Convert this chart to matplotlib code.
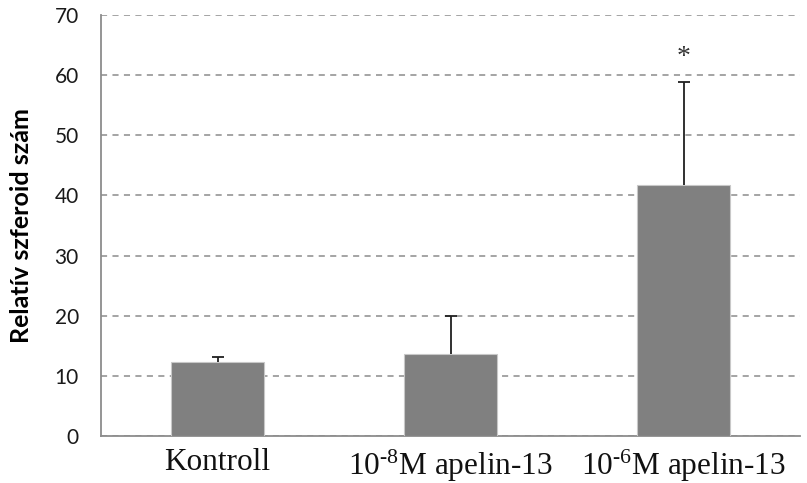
import matplotlib
matplotlib.use("Agg")
import matplotlib.pyplot as plt

categories = ["Kontroll", r"10$^{\text{-}8}$M apelin-13", r"10$^{\text{-}6}$M apelin-13"]
values = [12.3, 13.6, 41.7]
errors = [0.9, 6.4, 17.1]
significance = ["", "", "*"]
yticks = [0, 10, 20, 30, 40, 50, 60, 70]

plt.rcParams['mathtext.fontset'] = 'custom'
plt.rcParams['mathtext.rm'] = 'Liberation Serif'
plt.rcParams['mathtext.it'] = 'Liberation Serif:italic'
plt.rcParams['mathtext.bf'] = 'Liberation Serif:bold'
plt.rcParams['mathtext.default'] = 'regular'

fig = plt.figure(figsize=(8.07, 4.83), dpi=100)
ax = fig.add_axes([101/807, 1-436/483, 699/807, (436-15)/483])

x = list(range(len(categories)))
ax.bar(x, values, width=0.395, color='#808080', edgecolor='#c8c8c8', linewidth=0.8, zorder=3)
eb = ax.errorbar(x, values, yerr=[[0]*len(errors), errors], fmt='none', ecolor='#202020',
                 elinewidth=1.3, capsize=4.5, capthick=1.3, zorder=4)
caps = eb[1]
if len(caps) == 2:
    caps[0].set_visible(False)
for xi, v, e, s in zip(x, values, errors, significance):
    if s:
        ax.text(xi, v + e + 4.2, s, ha='center', va='center', fontsize=20,
                family='Liberation Serif', color='#333333', zorder=5)

ax.set_xlim(-0.5, len(categories) - 0.5)
ax.set_ylim(0, 70)
ax.set_yticks(yticks)
ax.yaxis.grid(True, linestyle=(0, (4, 3.5)), color='#8c8c8c', linewidth=1.1, zorder=0)
ax.set_axisbelow(True)
for sp in ['top', 'right']:
    ax.spines[sp].set_visible(False)
for sp in ['left', 'bottom']:
    ax.spines[sp].set_color('#8c8c8c')
    ax.spines[sp].set_linewidth(1.3)

ax.set_xticks(x)
ax.set_xticklabels(categories, family=['Liberation Serif', 'DejaVu Serif'], fontsize=22.5, color='#111111')
ax.tick_params(axis='x', length=0, pad=8.5)
ax.tick_params(axis='y', length=0, pad=16, labelsize=15, labelcolor='#1a1a1a')
for lab in ax.get_yticklabels():
    lab.set_family('Lato')

ax.set_ylabel("Relatív szferoid szám", family='Lato', fontweight='bold', fontsize=18)
ax.yaxis.set_label_coords(-68/699, 0.5)

fig.savefig("out.png", dpi=100)
